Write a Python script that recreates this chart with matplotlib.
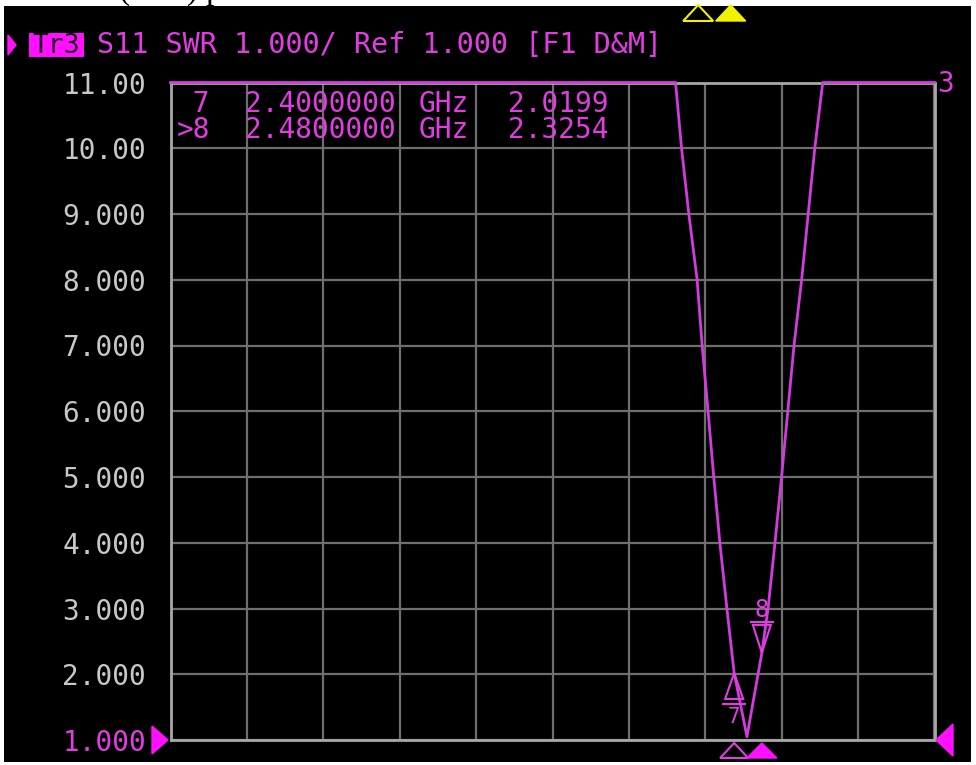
import numpy as np
import matplotlib
matplotlib.use("Agg")
import matplotlib.pyplot as plt
from matplotlib.patches import Polygon, Rectangle

W, H, DPI = 976, 765, 100

# ---------------- data ----------------
freq_start, freq_stop = 0.771, 2.979          # GHz (sweep range)
swr_bottom, swr_top = 1.0, 11.0               # scale: Ref 1.000, 1.000/div
ytick_values = [1, 2, 3, 4, 5, 6, 7, 8, 9, 10, 11]
ytick_labels = ["1.000", "2.000", "3.000", "4.000", "5.000", "6.000",
                "7.000", "8.000", "9.000", "10.00", "11.00"]

# S11 SWR trace (values above 11 are shown clipped at the top of the grid)
trace_freq = [0.771, 2.2306, 2.248, 2.269, 2.293, 2.3075, 2.3246, 2.341,
              2.3587, 2.379, 2.400, 2.437, 2.480, 2.498, 2.518, 2.537,
              2.555, 2.573, 2.595, 2.614, 2.633, 2.656, 2.979]
trace_swr = [11.0, 11.0, 10.0, 9.0, 8.0, 7.0, 6.0, 5.0,
             4.0, 3.0, 2.0199, 1.05, 2.3254, 3.0, 4.0, 5.0,
             6.0, 7.0, 8.0, 9.0, 10.0, 11.0, 11.0]

marker_ids = ["7", "8"]
marker_freq = [2.40, 2.48]
marker_swr = [2.0199, 2.3254]
marker_freq_text = ["2.4000000", "2.4800000"]
marker_val_text = ["2.0199", "2.3254"]
other_trace_marker_freq = [2.296, 2.390]      # yellow markers of another trace

header_text = "S11 SWR 1.000/ Ref 1.000 [F1 D&M]"

# ---------------- styling ----------------
MAG = "#e23de2"
MAG_BRIGHT = "#ff10ff"
TRACE = "#d23cdc"
GRID = "#6e6e6e"
FRAME = "#a8a8a8"
LABEL = "#c8c8c8"
YEL = "#f2f200"
MONO = "DejaVu Sans Mono"

fig = plt.figure(figsize=(W / DPI, H / DPI), dpi=DPI, facecolor="white")


def P(x, y):
    """top-left pixel -> figure fraction"""
    return (x / W, 1 - y / H)


# black screen area
fig.patches.append(Rectangle(P(4, 762), (971 - 4) / W, (762 - 6) / H,
                             transform=fig.transFigure, facecolor="black",
                             edgecolor="none", zorder=-10))

# cropped caption at the very top (only descenders visible)
for ch, xx in [("(", 118), (")", 187), ("p", 205)]:
    fig.text(*P(xx, -1.5), ch, family="Liberation Serif", fontsize=24,
             color="black", va="baseline", ha="left", zorder=1)

# axes
L, R, T, B = 170.5, 934.5, 82.5, 740.0
ax = fig.add_axes([L / W, 1 - B / H, (R - L) / W, (B - T) / H], zorder=1)
ax.set_facecolor("black")
ax.set_xlim(freq_start, freq_stop)
ax.set_ylim(swr_bottom, swr_top)
ax.set_xticks(np.linspace(freq_start, freq_stop, 11))
ax.set_xticklabels([])
ax.set_yticks(ytick_values)
ax.set_yticklabels(ytick_labels)
ax.tick_params(axis="both", length=0)
ax.tick_params(axis="y", pad=17.5, labelsize=20, labelcolor=LABEL)
for lab in ax.get_yticklabels():
    lab.set_family(MONO)
ax.get_yticklabels()[0].set_color(MAG)
ax.grid(True, color=GRID, lw=1.6)
ax.set_axisbelow(True)
for s in ax.spines.values():
    s.set_color(FRAME)
    s.set_linewidth(2)

ax.plot(trace_freq, np.clip(trace_swr, swr_bottom, swr_top), color=TRACE,
        lw=2, clip_on=False, zorder=6)

fig.canvas.draw()


def D(xd, yd):
    """data -> top-left pixel coords"""
    px, py = ax.transData.transform((xd, yd))
    return px, H - py


def poly(pts, fill, color, lw=1.5, z=7):
    fig.patches.append(Polygon([P(x, y) for x, y in pts], closed=True,
                               transform=fig.transFigure,
                               facecolor=color if fill else "none",
                               edgecolor=color, lw=lw, zorder=z))


# markers on the trace
x7, y7 = D(marker_freq[0], marker_swr[0])
poly([(x7, y7), (x7 - 9, y7 + 26), (x7 + 9, y7 + 26)], False, MAG)
fig.lines.append(plt.Line2D([P(x7 - 11, 0)[0], P(x7 + 11, 0)[0]],
                            [P(0, y7 + 31)[1]] * 2, transform=fig.transFigure,
                            color=MAG, lw=1.5, zorder=7))
fig.text(*P(x7, y7 + 50), marker_ids[0], family=MONO, fontsize=15,
         color=MAG, ha="center", va="baseline", zorder=7)

x8, y8 = D(marker_freq[1], marker_swr[1])
poly([(x8, y8), (x8 - 9, y8 - 28), (x8 + 9, y8 - 28)], False, MAG)
fig.lines.append(plt.Line2D([P(x8 - 11, 0)[0], P(x8 + 11, 0)[0]],
                            [P(0, y8 - 31)[1]] * 2, transform=fig.transFigure,
                            color=MAG, lw=1.5, zorder=7))
fig.text(*P(x8, y8 - 36), marker_ids[1], family=MONO, fontsize=17,
         color=MAG, ha="center", va="baseline", zorder=7)

# stimulus-position triangles under the grid
bx7, _ = D(marker_freq[0], swr_bottom)
bx8, _ = D(marker_freq[1], swr_bottom)
poly([(bx7, 743), (bx7 - 14, 758), (bx7 + 14, 758)], False, MAG, lw=1.5)
poly([(bx8, 743), (bx8 - 15, 758), (bx8 + 15, 758)], True, MAG_BRIGHT, lw=1)

# yellow triangles (other trace) at the top
yx = [D(f, swr_top)[0] for f in other_trace_marker_freq]
poly([(yx[0], 5), (yx[0] - 15, 21), (yx[0] + 15, 21)], False, YEL, lw=1.5)
poly([(yx[1], 5), (yx[1] - 15, 21), (yx[1] + 15, 21)], True, YEL, lw=1)

# reference-position triangles
_, yref = D(freq_start, swr_bottom)
poly([(152, yref - 14), (168, yref), (152, yref + 14)], True, MAG_BRIGHT, lw=1)
poly([(953, yref - 16), (936, yref), (953, yref + 16)], True, MAG_BRIGHT, lw=1)

# trace number at right
_, ytop = D(freq_stop, swr_top)
fig.text(*P(937, ytop + 10), "3", family=MONO, fontsize=20, color=MAG,
         ha="left", va="baseline")

# header line
poly([(8, 35), (16, 45), (8, 55)], True, MAG_BRIGHT, lw=1)
fig.patches.append(Rectangle(P(29, 57), 55 / W, 24 / H, transform=fig.transFigure,
                             facecolor=MAG_BRIGHT, edgecolor="none", zorder=2))
fig.text(*P(56.5, 53), "Tr3", family=MONO, fontsize=19, color="#1a001a",
         ha="center", va="baseline", zorder=3)
fig.text(*P(97, 53), header_text, family=MONO, fontsize=20.5, color=MAG,
         ha="left", va="baseline")

# marker table
row_base = [112, 138]
row_ids = [" 7", ">8"]
for i in range(2):
    fig.text(*P(210, row_base[i]), row_ids[i], family=MONO, fontsize=20,
             color=MAG, ha="right", va="baseline", zorder=8)
    fig.text(*P(245, row_base[i]), marker_freq_text[i], family=MONO,
             fontsize=20, color=MAG, ha="left", va="baseline", zorder=8)
    fig.text(*P(419, row_base[i]), "GHz", family=MONO, fontsize=20,
             color=MAG, ha="left", va="baseline", zorder=8)
    fig.text(*P(508, row_base[i]), marker_val_text[i], family=MONO,
             fontsize=20, color=MAG, ha="left", va="baseline", zorder=8)

fig.savefig("out.png", dpi=DPI, facecolor="white")
